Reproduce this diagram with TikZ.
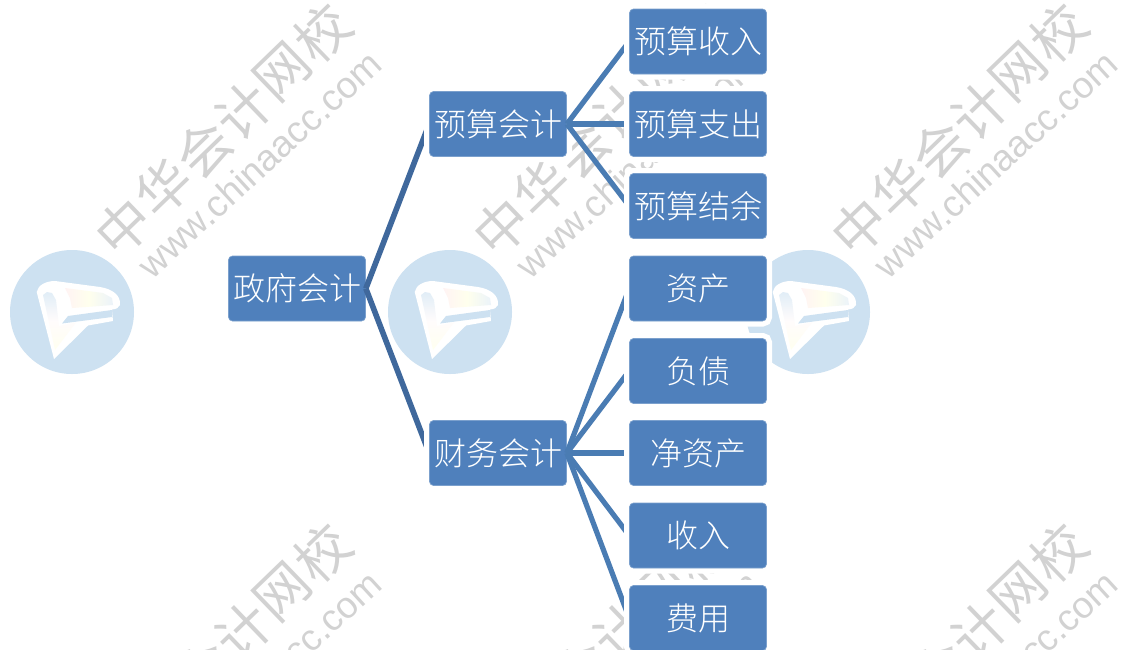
\documentclass[tikz,border=0pt]{standalone}
\usepackage{fontspec}
\setmainfont{Liberation Sans}
\newfontfamily\cjk{Noto Sans CJK SC Light}
\newfontfamily\wmcjk{Noto Sans CJK SC}
\definecolor{boxblue}{HTML}{4F80BC}
\definecolor{edgeone}{HTML}{3F689C}
\definecolor{edgetwo}{HTML}{4A7CB3}
\definecolor{wmgray}{HTML}{D2D2D2}
\definecolor{logoblue}{HTML}{CDE1F1}
\pgfdeclarelayer{wm}\pgfdeclarelayer{rootl}\pgfdeclarelayer{lineone}\pgfdeclarelayer{midl}\pgfdeclarelayer{linetwo}
\pgfsetlayers{wm,rootl,lineone,midl,linetwo,main}
\tikzset{
  x=1pt,y=-1pt,
  boxnode/.style={minimum width=137pt,minimum height=65pt,inner sep=0pt,rounded corners=4pt,
    fill=boxblue,draw=boxblue!75!white,line width=.7pt,text=white,
    font=\cjk\fontsize{32}{34}\selectfont,
    preaction={draw=white,line width=11pt}},
  wmchar/.style={text=wmgray,font=\wmcjk\fontsize{54}{56}\selectfont,rotate=44,inner sep=0pt},
  wmurl/.style={text=wmgray,font=\fontsize{37}{39}\selectfont,rotate=42.5,inner sep=0pt},
  linkone/.style={draw=edgeone,line width=5.6pt},
  linktwo/.style={draw=edgetwo,line width=5.2pt},
}
\newcommand{\boxtext}[1]{\raisebox{2.2pt}{#1}}
\newcommand{\wmark}[2]{%
  \begin{scope}[shift={(#1,#2)}]
    \node[wmchar] at (124,227) {中};
    \node[wmchar] at (164,188.2) {华};
    \node[wmchar] at (204,149.4) {会};
    \node[wmchar] at (244,110.6) {计};
    \node[wmchar] at (283,71.8) {网};
    \node[wmchar] at (323,33) {校};
    \node[wmurl] at (259.5,164) {www.chinaacc.com};
  \end{scope}}
\newcommand{\logomark}[1]{%
  \begin{scope}[shift={(#1,0)}]
    \fill[logoblue] (72,312) circle (62);
    \fill[white] (36.7,292) .. controls (38,285) and (46,281) .. (55,281) -- (100,287)
      .. controls (112,289) and (121,295) .. (120,305) .. controls (119,308) and (116,309) .. (112,309.5)
      -- (113,321) -- (88,325.5) -- (54,359) -- cycle;
    \fill[logoblue] (68,316) -- (112,310) -- (112,317) -- (62,323.5) -- cycle;
    \shade[top color=logoblue!60!white,bottom color=yellow!6!white,middle color=pink!5!white]
      (43,295) -- (47,292) -- (52,293) -- (56,300) -- (59,326) -- (76,322.5) -- (55,350) -- cycle;
    \shade[left color=pink!18!white,right color=logoblue!40!white,middle color=yellow!7!white]
      (65,288) -- (103,293) -- (112,298) -- (113,305) -- (72,308) -- (70,298) -- cycle;
  \end{scope}}
\begin{document}
\begin{tikzpicture}
\useasboundingbox (0,0) rectangle (1121,649);
\clip (0,0) rectangle (1121,649);
\begin{pgfonlayer}{wm}
  \fill[white] (0,0) rectangle (1121,649);
  \logomark{0}\logomark{378}\logomark{736}
  \foreach \dx in {0,378,736}{\foreach \dy in {0,520}{\wmark{\dx}{\dy}}}
\end{pgfonlayer}
\begin{pgfonlayer}{rootl}
  \node[boxnode] (root) at (297,288.5) {\boxtext{政府会计}};
\end{pgfonlayer}
\begin{pgfonlayer}{midl}
  \node[boxnode] (budget) at (498,124) {\boxtext{预算会计}};
  \node[boxnode] (fin) at (498,453) {\boxtext{财务会计}};
\end{pgfonlayer}
\node[boxnode] (b1) at (698,41.5) {\boxtext{预算收入}};
\node[boxnode] (b2) at (698,124) {\boxtext{预算支出}};
\node[boxnode] (b3) at (698,206) {\boxtext{预算结余}};
\node[boxnode] (f1) at (698,288.5) {\boxtext{资产}};
\node[boxnode] (f2) at (698,371) {\boxtext{负债}};
\node[boxnode] (f3) at (698,453) {\boxtext{净资产}};
\node[boxnode] (f4) at (698,535.5) {\boxtext{收入}};
\node[boxnode] (f5) at (698,618) {\boxtext{费用}};
\begin{pgfonlayer}{lineone}
  \draw[linkone] (root.east) -- (budget.west);
  \draw[linkone] (root.east) -- (fin.west);
\end{pgfonlayer}
\begin{pgfonlayer}{linetwo}
  \foreach \t in {b1,b2,b3}{\draw[linktwo] (budget.east) -- (\t.west);}
  \foreach \t in {f1,f2,f3,f4,f5}{\draw[linktwo] (fin.east) -- (\t.west);}
\end{pgfonlayer}
\end{tikzpicture}
\end{document}
